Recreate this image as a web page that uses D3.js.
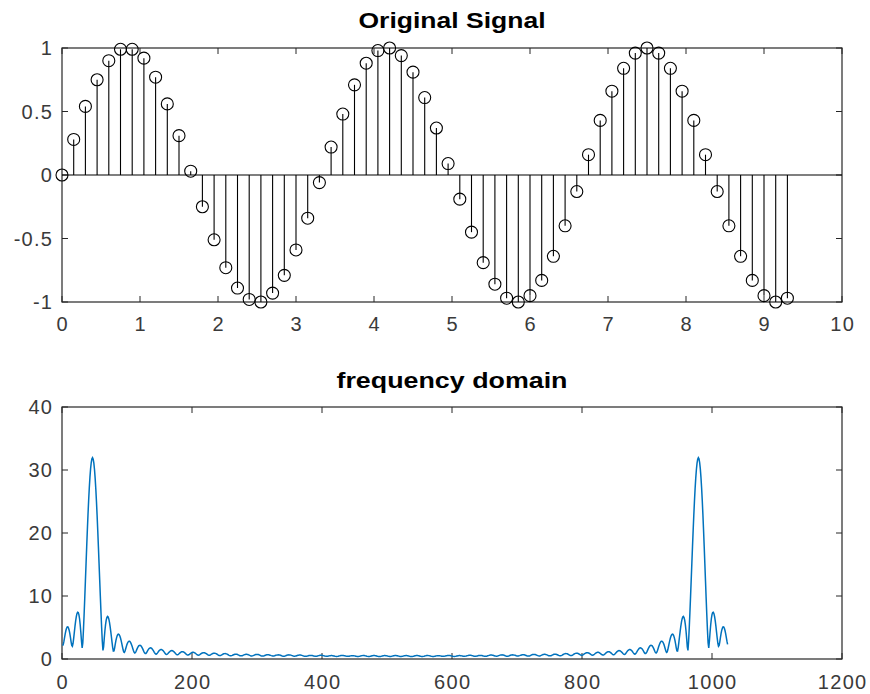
<!DOCTYPE html>
<html>
<head>
<meta charset="utf-8">
<script src="https://cdn.jsdelivr.net/npm/d3@7"></script>
<style>
  body { margin: 0; background: #fff; }
  text { font-family: "Liberation Sans", Arial, Helvetica, sans-serif; }
  .tick-label { font-size: 20px; fill: #3a3a3a; letter-spacing: 1.3px; }
  .title { font-size: 22px; font-weight: bold; fill: #000; }
</style>
</head>
<body>
<script>

var sampleTimes = [0, 0.15, 0.3, 0.45, 0.6, 0.75, 0.9, 1.05, 1.2, 1.35, 1.5, 1.65, 1.8, 1.95, 2.1,
    2.25, 2.4, 2.55, 2.7, 2.85, 3, 3.15, 3.3, 3.45, 3.6, 3.75, 3.9, 4.05, 4.2, 4.35, 4.5, 4.65,
    4.8, 4.95, 5.1, 5.25, 5.4, 5.55, 5.7, 5.85, 6, 6.15, 6.3, 6.45, 6.6, 6.75, 6.9, 7.05, 7.2,
    7.35, 7.5, 7.65, 7.8, 7.95, 8.1, 8.25, 8.4, 8.55, 8.7, 8.85, 9, 9.15, 9.3];
var signalValues = [0, 0.28, 0.54, 0.75, 0.90, 0.99, 0.99, 0.92, 0.77, 0.56,
    0.31, 0.03, -0.25, -0.51, -0.73, -0.89, -0.98, -1.00, -0.93, -0.79,
    -0.59, -0.34, -0.06, 0.22, 0.48, 0.71, 0.88, 0.98, 1.00, 0.94,
    0.81, 0.61, 0.37, 0.09, -0.19, -0.45, -0.69, -0.86, -0.97, -1.00,
    -0.95, -0.83, -0.64, -0.40, -0.13, 0.16, 0.43, 0.66, 0.84, 0.96,
    1.00, 0.96, 0.84, 0.66, 0.43, 0.16, -0.13, -0.40, -0.64, -0.83,
    -0.95, -1.00, -0.97];

var topXTicks = [0, 1, 2, 3, 4, 5, 6, 7, 8, 9, 10];
var topYTicks = [-1, -0.5, 0, 0.5, 1];
var bottomXTicks = [0, 200, 400, 600, 800, 1000, 1200];
var bottomYTicks = [0, 10, 20, 30, 40];
var topTitle = "Original Signal";
var bottomTitle = "frequency domain";
var fftLength = 1024;

// magnitude of the zero padded DFT of the signal (the "frequency domain" plot)
function magnitudeSpectrum(x, n){
    var out = [];
    for (var k = 0; k < n; k++){
        var re = 0, im = 0;
        for (var j = 0; j < x.length; j++){
            var a = -2 * Math.PI * k * j / n;
            re += x[j] * Math.cos(a);
            im += x[j] * Math.sin(a);
        }
        out.push({bin: k + 1, mag: Math.sqrt(re * re + im * im)});
    }
    return out;
}

var width = 870, height = 694;
var left = 62, right = 842;
var tickLen = 6;
var axisColor = "#262626";

var svg = d3.select("body").append("svg")
    .attr("width", width)
    .attr("height", height);

function drawFrame(g, x, y, xTicks, yTicks, labelDrop){
    var x0 = x.range()[0], x1 = x.range()[1];
    var y0 = y.range()[0], y1 = y.range()[1];

    g.append("rect")
        .attr("x", x0).attr("y", y1)
        .attr("width", x1 - x0).attr("height", y0 - y1)
        .attr("fill", "none")
        .attr("stroke", axisColor)
        .attr("stroke-width", 1.2);

    xTicks.forEach(function(t){
        var px = x(t);
        g.append("line").attr("x1", px).attr("x2", px).attr("y1", y0).attr("y2", y0 - tickLen)
            .attr("stroke", axisColor);
        g.append("line").attr("x1", px).attr("x2", px).attr("y1", y1).attr("y2", y1 + tickLen)
            .attr("stroke", axisColor);
        g.append("text").attr("class", "tick-label")
            .attr("x", px + 0.7).attr("y", y0 + labelDrop)
            .attr("text-anchor", "middle")
            .text(d3.format("")(t));
    });

    yTicks.forEach(function(t){
        var py = y(t);
        g.append("line").attr("x1", x0).attr("x2", x0 + tickLen).attr("y1", py).attr("y2", py)
            .attr("stroke", axisColor);
        g.append("line").attr("x1", x1).attr("x2", x1 - tickLen).attr("y1", py).attr("y2", py)
            .attr("stroke", axisColor);
        g.append("text").attr("class", "tick-label")
            .attr("x", x0 - 8.7).attr("y", py)
            .attr("dy", "0.36em")
            .attr("text-anchor", "end")
            .text(String(t));
    });
}

// ---- top: stem plot
var xTop = d3.scaleLinear().domain([0, 10]).range([left, right]);
var yTop = d3.scaleLinear().domain([-1, 1]).range([302, 48]);
var gTop = svg.append("g");

drawFrame(gTop, xTop, yTop, topXTicks, topYTicks, 29);

gTop.append("line")
    .attr("x1", xTop(0)).attr("x2", xTop(10))
    .attr("y1", yTop(0)).attr("y2", yTop(0))
    .attr("stroke", "#000").attr("stroke-width", 1.1);

var stems = sampleTimes.map(function(t, i){ return {t: t, v: signalValues[i]}; });

gTop.selectAll(".stem")
    .data(stems)
    .enter().append("line")
    .attr("class", "stem")
    .attr("x1", function(d){ return xTop(d.t); })
    .attr("x2", function(d){ return xTop(d.t); })
    .attr("y1", yTop(0))
    .attr("y2", function(d){ return yTop(d.v); })
    .attr("stroke", "#000")
    .attr("stroke-width", 1.1);

gTop.selectAll(".marker")
    .data(stems)
    .enter().append("circle")
    .attr("class", "marker")
    .attr("cx", function(d){ return xTop(d.t); })
    .attr("cy", function(d){ return yTop(d.v); })
    .attr("r", 6)
    .attr("fill", "none")
    .attr("stroke", "#000")
    .attr("stroke-width", 1.1);

gTop.append("text").attr("class", "title")
    .attr("x", (left + right) / 2).attr("y", 28)
    .attr("text-anchor", "middle")
    .attr("textLength", 187).attr("lengthAdjust", "spacingAndGlyphs")
    .text(topTitle);

// ---- bottom: spectrum
var spectrum = magnitudeSpectrum(signalValues, fftLength);
var xBot = d3.scaleLinear().domain([0, 1200]).range([left, right]);
var yBot = d3.scaleLinear().domain([0, 40]).range([659, 407]);
var gBot = svg.append("g");

drawFrame(gBot, xBot, yBot, bottomXTicks, bottomYTicks, 30);

gBot.append("path")
    .datum(spectrum)
    .attr("fill", "none")
    .attr("stroke", "#0072BD")
    .attr("stroke-width", 1.5)
    .attr("d", d3.line()
        .x(function(d){ return xBot(d.bin); })
        .y(function(d){ return yBot(d.mag); }));

gBot.append("text").attr("class", "title")
    .attr("x", (left + right) / 2).attr("y", 388)
    .attr("text-anchor", "middle")
    .attr("textLength", 231).attr("lengthAdjust", "spacingAndGlyphs")
    .text(bottomTitle);

</script>
</body>
</html>
